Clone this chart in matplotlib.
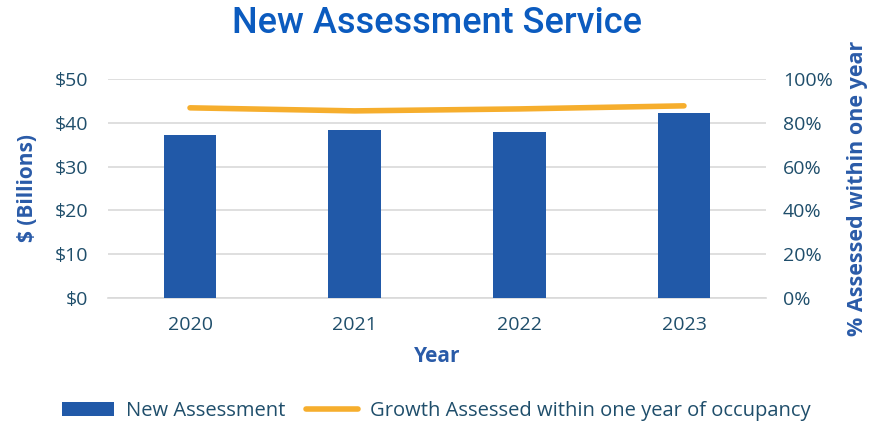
import matplotlib
matplotlib.use("Agg")
import matplotlib.pyplot as plt
from matplotlib.ticker import FuncFormatter

years = ["2020", "2021", "2022", "2023"]
new_assessment = [37.2, 38.4, 37.9, 42.2]
pct_within_year = [86.8, 85.4, 86.3, 87.7]

bar_color = "#2159a8"
line_color = "#f6ae2d"
tick_color = "#1f4e6b"
label_color = "#2a5ba8"

plt.rcParams['font.family'] = ['Open Sans', 'DejaVu Sans']

fig = plt.figure(figsize=(8.9, 4.22), dpi=100)
ax = fig.add_axes([0.121, 0.294, 0.740, 0.519])
x = list(range(len(years)))
ax.bar(x, new_assessment, width=0.32, color=bar_color, zorder=3, label="New Assessment")
ax.set_xlim(-0.5, 3.5)
ax.set_ylim(0, 50)
ax.set_yticks([0, 10, 20, 30, 40, 50])
ax.yaxis.set_major_formatter(FuncFormatter(lambda v, p: f"${v:.0f}"))
ax.set_xticks(x)
ax.set_xticklabels(years)
ax.grid(axis='y', color="#d9d9d9", linewidth=1.2, zorder=0)
for s in ['top', 'right', 'left']:
    ax.spines[s].set_visible(False)
ax.spines['bottom'].set_color("#d9d9d9")
ax.spines['bottom'].set_linewidth(1.2)
ax.tick_params(axis='both', length=0, labelsize=14, colors=tick_color)
ax.tick_params(axis='x', pad=13)
ax.tick_params(axis='y', pad=14)
ax.set_xlabel("Year", fontsize=15, fontweight='bold', color=label_color, labelpad=9)
ax.set_ylabel("$ (Billions)", fontsize=15, fontweight='bold', color=label_color, labelpad=12)

ax2 = ax.twinx()
ax2.plot(x, pct_within_year, color=line_color, linewidth=4, solid_capstyle='round', zorder=4,
         label="Growth Assessed within one year of occupancy")
ax2.set_ylim(0, 100)
ax2.set_yticks([0, 20, 40, 60, 80, 100])
ax2.yaxis.set_major_formatter(FuncFormatter(lambda v, p: f"{v:.0f}%"))
for s in ['top', 'right', 'left', 'bottom']:
    ax2.spines[s].set_visible(False)
ax2.tick_params(axis='y', length=0, labelsize=14, colors=tick_color, pad=12)
ax2.set_ylabel("% Assessed within one year", fontsize=15.5, fontweight='bold', color=label_color, labelpad=10)

fig.suptitle("New Assessment Service", x=0.491, y=0.985, fontsize=26, fontweight='medium',
             color="#0b5bbf", family=['Roboto', 'DejaVu Sans'])

h1, l1 = ax.get_legend_handles_labels()
h2, l2 = ax2.get_legend_handles_labels()
fig.legend(h1 + h2, l1 + l2, loc='center', bbox_to_anchor=(0.49, 0.025), ncol=2, frameon=False,
           fontsize=14.5, labelcolor=tick_color, handlelength=2.6, columnspacing=1.0, handletextpad=0.6)

fig.savefig("out.png", dpi=100)
